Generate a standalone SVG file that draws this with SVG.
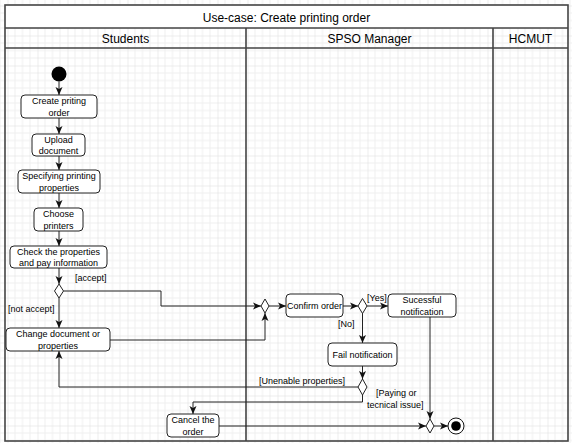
<svg xmlns="http://www.w3.org/2000/svg" width="572" height="443" viewBox="0 0 572 443">
<style>
text{font-family:"Liberation Sans",Arial,sans-serif;fill:#000}
.t9{font-size:9px}
.t12{font-size:12px}
.mid{text-anchor:middle}
.box{fill:#fff;stroke:#222;stroke-width:1}
.dia{fill:#fff;stroke:#222;stroke-width:1}
.frame{fill:none;stroke:#444;stroke-width:1.6}
.edge{fill:none;stroke:#222;stroke-width:1}
</style>
<defs>
<pattern id="grid" patternUnits="userSpaceOnUse" x="7.5" y="5.5" width="30" height="30">
<path d="M7.5,0V30M15,0V30M22.5,0V30M0,7.5H30M0,15H30M0,22.5H30" stroke="#efefef" stroke-width="1" fill="none"/>
<path d="M0,0V30M0,0H30" stroke="#dcdcdc" stroke-width="1" fill="none"/>
</pattern>
<marker id="arr" markerUnits="userSpaceOnUse" markerWidth="9" markerHeight="8" refX="8" refY="4" orient="auto">
<path d="M0,0.5 L8,4 L0,7.5 L2,4 z" fill="#111"/>
</marker>
</defs>
<rect x="0" y="0" width="572" height="443" fill="#fff"/>
<rect x="0" y="0" width="572" height="443" fill="url(#grid)"/>

<g id="pool">
<rect x="5" y="5" width="563" height="23" fill="#fff"/>
<rect class="frame" x="5" y="5" width="563" height="436"/>
<path class="frame" d="M5,28H568M5,48H568M246,28V441M493,28V441"/>
<text class="t12 mid" x="286.5" y="22">Use-case: Create printing order</text>
<text class="t12 mid" x="125.5" y="42.5">Students</text>
<text class="t12 mid" x="369.5" y="42.5">SPSO Manager</text>
<text class="t12 mid" x="530.5" y="42.5">HCMUT</text>
</g>

<g id="connectors">
<path class="edge" d="M59,81.5V95" marker-end="url(#arr)"/>
<path class="edge" d="M59,118V134" marker-end="url(#arr)"/>
<path class="edge" d="M59,156V170" marker-end="url(#arr)"/>
<path class="edge" d="M59,193V208" marker-end="url(#arr)"/>
<path class="edge" d="M59,231V246" marker-end="url(#arr)"/>
<path class="edge" d="M59,268V284" marker-end="url(#arr)"/>
<path class="edge" d="M59,298V328" marker-end="url(#arr)"/>
<path class="edge" d="M63.5,291H161V306H261" marker-end="url(#arr)"/>
<path class="edge" d="M110,340H265V313" marker-end="url(#arr)"/>
<path class="edge" d="M269,306H286" marker-end="url(#arr)"/>
<path class="edge" d="M343,306H358" marker-end="url(#arr)"/>
<path class="edge" d="M367,306H388" marker-end="url(#arr)"/>
<path class="edge" d="M362.5,313V343" marker-end="url(#arr)"/>
<path class="edge" d="M362.5,366V379" marker-end="url(#arr)"/>
<path class="edge" d="M358,387H59V351" marker-end="url(#arr)"/>
<path class="edge" d="M362.5,395V402H193V414" marker-end="url(#arr)"/>
<path class="edge" d="M219,426H426" marker-end="url(#arr)"/>
<path class="edge" d="M430,317V419" marker-end="url(#arr)"/>
<path class="edge" d="M434,426H448" marker-end="url(#arr)"/>
<text class="t9" x="75" y="281">[accept]</text>
<text class="t9" x="8" y="312">[not accept]</text>
<text class="t9" x="367" y="301">[Yes]</text>
<text class="t9" x="338" y="327">[No]</text>
<text class="t9" x="259" y="384">[Unenable properties]</text>
<text class="t9" x="376" y="396">[Paying or</text>
<text class="t9" x="367" y="407.5">tecnical issue]</text>
</g>

<g id="start"><circle cx="59" cy="74" r="7.5" fill="#000"/></g>
<g id="create"><rect class="box" x="21" y="95" width="76" height="23" rx="4"/>
<text class="t9 mid" x="59" y="104">Create priting</text><text class="t9 mid" x="59" y="115.5">order</text></g>
<g id="upload"><rect class="box" x="32" y="134" width="53" height="22" rx="4"/>
<text class="t9 mid" x="58.5" y="142.5">Upload</text><text class="t9 mid" x="58.5" y="154">document</text></g>
<g id="specify"><rect class="box" x="18" y="170" width="82" height="23" rx="4"/>
<text class="t9 mid" x="59" y="179">Specifying printing</text><text class="t9 mid" x="59" y="190.5">properties</text></g>
<g id="choose"><rect class="box" x="34" y="208" width="49" height="23" rx="4"/>
<text class="t9 mid" x="58.5" y="217">Choose</text><text class="t9 mid" x="58.5" y="228.5">printers</text></g>
<g id="check"><rect class="box" x="10" y="246" width="97" height="22" rx="4"/>
<text class="t9 mid" x="58.5" y="254.5">Check the properties</text><text class="t9 mid" x="58.5" y="266">and pay information</text></g>
<g id="decision1"><path class="dia" d="M59,284L63.5,291L59,298L54.5,291z"/></g>
<g id="change"><rect class="box" x="6" y="328" width="104" height="23" rx="4"/>
<text class="t9 mid" x="58" y="337">Change document or</text><text class="t9 mid" x="58" y="348.5">properties</text></g>
<g id="merge1"><path class="dia" d="M265,299L269,306L265,313L261,306z"/></g>
<g id="confirm"><rect class="box" x="286" y="294" width="57" height="23" rx="4"/>
<text class="t9 mid" x="314.5" y="308.5">Confirm order</text></g>
<g id="decision2"><path class="dia" d="M362.5,298.5L367,306L362.5,313.5L358,306z"/></g>
<g id="success"><rect class="box" x="388" y="294" width="68" height="23" rx="4"/>
<text class="t9 mid" x="422" y="303">Sucessful</text><text class="t9 mid" x="422" y="314.5">notification</text></g>
<g id="fail"><rect class="box" x="328" y="343" width="69" height="23" rx="4"/>
<text class="t9 mid" x="362.5" y="357.5">Fail notification</text></g>
<g id="decision3"><path class="dia" d="M362.5,379L367,387L362.5,395L358,387z"/></g>
<g id="cancel"><rect class="box" x="167" y="414" width="52" height="23" rx="4"/>
<text class="t9 mid" x="193" y="423">Cancel the</text><text class="t9 mid" x="193" y="434.5">order</text></g>
<g id="merge2"><path class="dia" d="M430,419L434,426L430,433L426,426z"/></g>
<g id="end"><circle cx="456" cy="426" r="8" fill="#fff" stroke="#111" stroke-width="1"/><circle cx="456" cy="426" r="4.8" fill="#000"/></g>
</svg>
